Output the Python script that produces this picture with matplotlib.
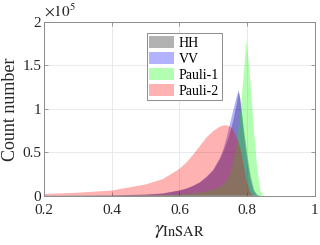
import matplotlib
matplotlib.use("Agg")
import matplotlib.pyplot as plt
from matplotlib.ticker import FixedLocator, FuncFormatter

# Data (counts in units of 1e5)
gamma = [0.20, 0.30, 0.40, 0.50, 0.55, 0.58, 0.60, 0.62, 0.64, 0.66, 0.68, 0.70,
         0.72, 0.73, 0.74, 0.75, 0.76, 0.77, 0.775, 0.78, 0.79, 0.797, 0.80, 0.81,
         0.82, 0.83, 0.84, 0.85, 0.86, 1.00]
hh = [0.002, 0.003, 0.005, 0.012, 0.025, 0.045, 0.06, 0.08, 0.11, 0.15, 0.21, 0.29,
      0.42, 0.51, 0.61, 0.73, 0.88, 1.07, 1.20, 1.12, 0.78, 0.58, 0.48, 0.24,
      0.07, 0.01, 0.0, 0.0, 0.0, 0.0]
vv = [0.002, 0.003, 0.005, 0.013, 0.026, 0.047, 0.062, 0.083, 0.115, 0.155, 0.22, 0.30,
      0.44, 0.54, 0.68, 0.84, 1.00, 1.15, 1.21, 1.08, 0.72, 0.50, 0.41, 0.18,
      0.05, 0.005, 0.0, 0.0, 0.0, 0.0]
pauli1 = [0.001, 0.002, 0.003, 0.005, 0.008, 0.01, 0.015, 0.02, 0.025, 0.035, 0.05, 0.07,
          0.10, 0.13, 0.18, 0.26, 0.40, 0.62, 0.78, 0.95, 1.40, 1.78, 1.72, 1.30,
          0.75, 0.30, 0.05, 0.0, 0.0, 0.0]
pauli2 = [0.02, 0.035, 0.06, 0.13, 0.19, 0.26, 0.31, 0.38, 0.47, 0.57, 0.67, 0.745,
          0.795, 0.81, 0.81, 0.795, 0.75, 0.66, 0.61, 0.54, 0.35, 0.20, 0.14, 0.03,
          0.0, 0.0, 0.0, 0.0, 0.0, 0.0]
series_names = ["HH", "VV", "Pauli-1", "Pauli-2"]
xticks = [0.2, 0.4, 0.6, 0.8, 1.0]
yticks = [0, 0.5, 1, 1.5, 2]

plt.rcParams['font.family'] = ['Liberation Serif', 'DejaVu Serif']
plt.rcParams['mathtext.fontset'] = 'stix'

fig = plt.figure(figsize=(3.2, 2.45), dpi=100)
ax = fig.add_axes([0.1375, 0.201, 0.8465, 0.71])

colors = ['black', 'blue', (0, 1, 0), 'red']
for name, vals, c in zip(series_names, [hh, vv, pauli1, pauli2], colors):
    ax.fill_between(gamma, 0, vals, facecolor=c, alpha=0.3, edgecolor='none',
                    linewidth=0, label=name)

ax.set_xlim(0.2, 1.0)
ax.set_ylim(0, 2)
ax.xaxis.set_major_locator(FixedLocator(xticks))
ax.yaxis.set_major_locator(FixedLocator(yticks))
ax.xaxis.set_major_formatter(FuncFormatter(lambda v, p: f"{v:g}"))
ax.yaxis.set_major_formatter(FuncFormatter(lambda v, p: f"{v:g}"))
ax.grid(True, color='#e6e6e6', linewidth=0.6)
ax.set_axisbelow(True)
for s in ax.spines.values():
    s.set_color('#8c8c8c')
    s.set_linewidth(0.7)
ax.tick_params(direction='in', length=3, width=0.6, color='#8c8c8c',
               labelsize=11, labelcolor='#262626', top=True, right=True)
ax.tick_params(axis='x', pad=6)
ax.tick_params(axis='y', pad=2)

ax.set_ylabel("Count number", fontsize=13, color='#262626', labelpad=2)
ax.set_xlabel(r"$\gamma_{\mathrm{InSAR}}$", fontsize=15, color='#262626', labelpad=3)
ax.text(0.0, 1.015, r"$\times10^{5}$", transform=ax.transAxes, fontsize=11,
        color='#262626', ha='left', va='bottom')

leg = ax.legend(loc='upper left', bbox_to_anchor=(0.379, 0.937), borderaxespad=0,
                fontsize=10, frameon=True, fancybox=False, handlelength=1.8,
                handleheight=1.0, handletextpad=0.3, borderpad=0.2, labelspacing=0.15)
leg.get_frame().set_edgecolor('#8c8c8c')
leg.get_frame().set_linewidth(0.7)
leg.get_frame().set_alpha(1)

fig.savefig("out.png", dpi=100)
